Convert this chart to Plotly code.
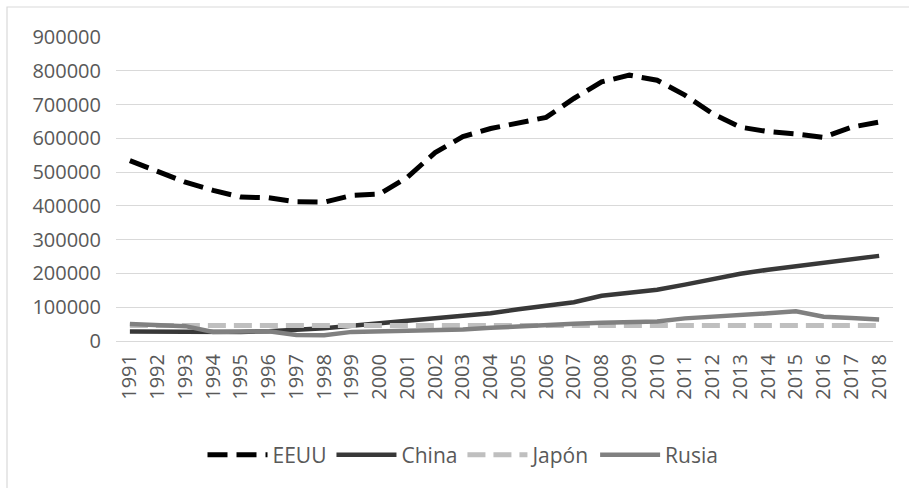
import plotly.graph_objects as go

years = [str(y) for y in range(1991, 2019)]
eeuu = [534000, 500000, 470000, 446000, 426000, 424000, 412000, 411000, 431000, 435000,
        485000, 558000, 605000, 629000, 644000, 662000, 718000, 767000, 787000, 772000,
        728000, 673000, 633000, 620000, 613000, 603000, 633000, 648000]
china = [28000, 27000, 27000, 25000, 27000, 29000, 33000, 38000, 45000, 52000,
         60000, 66000, 73000, 82000, 94000, 105000, 115000, 134000, 143000, 152000,
         167000, 183000, 199000, 211000, 221000, 231000, 242000, 252000]
japon = [46000, 46000, 46000, 46000, 46000, 46000, 46000, 46000, 46000, 46000,
         46000, 46000, 46000, 46000, 46000, 46000, 46000, 46000, 46000, 46000,
         46000, 46000, 46000, 46000, 46000, 46000, 46000, 46000]
rusia = [50000, 47000, 44000, 27000, 28000, 29000, 18000, 17000, 27000, 28000,
         29000, 30000, 34000, 39000, 44000, 48000, 51000, 54000, 55000, 58000,
         67000, 71000, 76000, 82000, 88000, 72000, 68000, 64000]
y_ticks = list(range(0, 900001, 100000))

FONT = "Open Sans"
TXT = "#595959"

fig = go.Figure()
fig.add_trace(go.Scatter(x=years, y=eeuu, name="EEUU", mode="lines",
                         line=dict(color="#000000", width=5, dash="20px,9px")))
fig.add_trace(go.Scatter(x=years, y=china, name="China", mode="lines",
                         line=dict(color="#383838", width=4.5)))
fig.add_trace(go.Scatter(x=years, y=japon, name="Japón", mode="lines",
                         line=dict(color="#bfbfbf", width=5, dash="18px,8px")))
fig.add_trace(go.Scatter(x=years, y=rusia, name="Rusia", mode="lines",
                         line=dict(color="#808080", width=4.5)))

L, R, T, B = 116, 16, 37, 147
W, H = 909, 488
pw, ph = W - L - R, H - T - B

def px(xp):
    return (xp - L) / pw

def py(yp):
    return (H - B - yp) / ph

fig.update_layout(
    width=W, height=H,
    margin=dict(l=L, r=R, t=T, b=B, autoexpand=False),
    paper_bgcolor="white", plot_bgcolor="white",
    font=dict(family=FONT, size=20, color=TXT),
    showlegend=True,
    legend=dict(orientation="h", x=px(463), xanchor="center", y=py(455), yanchor="middle",
                font=dict(family=FONT, size=21, color=TXT), bgcolor="rgba(0,0,0,0)",
                itemwidth=60, tracegroupgap=0),
    xaxis=dict(type="category", range=[-0.5, 27.5], showgrid=False, showline=False,
               zeroline=False, ticks="", tickangle=-90, ticklabelstandoff=8,
               automargin=False, tickfont=dict(family=FONT, size=20, color=TXT)),
    yaxis=dict(range=[0, 900000], tickvals=y_ticks, ticktext=[str(v) for v in y_ticks],
               showgrid=True, gridcolor="#d9d9d9", gridwidth=1.3, zeroline=True,
               zerolinecolor="#d9d9d9", zerolinewidth=1.3, showline=False, ticks="",
               automargin=False, ticklabelstandoff=14,
               tickfont=dict(family=FONT, size=20, color=TXT)),
    shapes=[dict(type="rect", xref="paper", yref="paper",
                 x0=px(7), x1=px(W + 20), y0=py(H + 20), y1=py(7),
                 line=dict(color="#d9d9d9", width=1.2), fillcolor="rgba(0,0,0,0)",
                 layer="below")],
)

fig.write_html("out.html", config={"displayModeBar": False},
               post_script="document.body.style.margin='0';document.body.style.overflow='hidden';")
